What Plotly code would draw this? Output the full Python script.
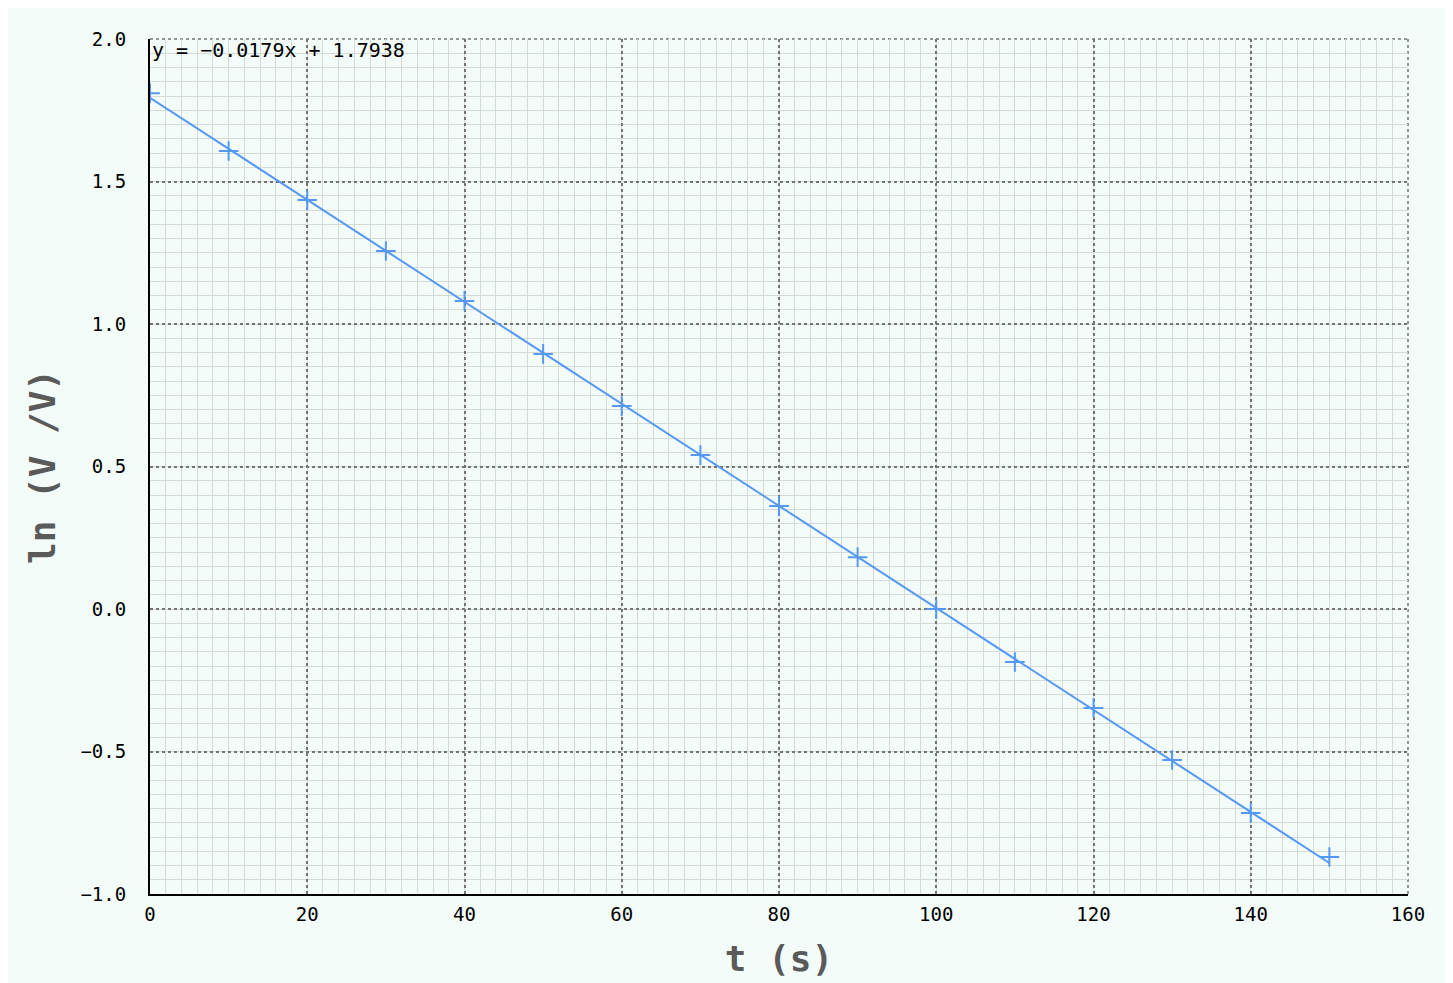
import plotly.graph_objects as go

# Data
t_s = [0, 10, 20, 30, 40, 50, 60, 70, 80, 90, 100, 110, 120, 130, 140, 150]
ln_v = [1.81, 1.607, 1.435, 1.256, 1.081, 0.895, 0.712, 0.540, 0.361, 0.182,
        0.0, -0.186, -0.347, -0.530, -0.716, -0.870]

# Fit shown on the chart
slope = -0.0179
intercept = 1.7938
fit_x = [t_s[0], t_s[-1]]
fit_y = [slope * v + intercept for v in fit_x]

x_ticks = [0, 20, 40, 60, 80, 100, 120, 140, 160]
y_ticks = [-1.0, -0.5, 0.0, 0.5, 1.0, 1.5, 2.0]
y_tick_text = ["\u22121.0", "\u22120.5", "0.0", "0.5", "1.0", "1.5", "2.0"]

BLUE = "#5599f5"
MINT = "#f3fcf8"
FONT = "DejaVu Sans Mono"
MAJOR = "#747474"
MINOR = "#d6dbd8"

fig = go.Figure()
fig.add_trace(go.Scatter(
    x=fit_x, y=fit_y, mode="lines",
    line=dict(color=BLUE, width=2), hoverinfo="skip", showlegend=False))
fig.add_trace(go.Scatter(
    x=t_s, y=ln_v, mode="markers",
    marker=dict(symbol="cross-thin", size=14, color=BLUE,
                line=dict(color=BLUE, width=2)),
    showlegend=False))

fig.add_annotation(
    x=0, y=1, xref="paper", yref="paper", xanchor="left", yanchor="top",
    xshift=0, yshift=3, showarrow=False,
    text="y = \u22120.0179x + 1.7938",
    font=dict(family=FONT, size=20, color="black"))

fig.update_xaxes(
    range=[0, 160], tickvals=x_ticks, ticktext=[str(v) for v in x_ticks],
    showgrid=True, gridcolor=MAJOR, griddash="dot", gridwidth=1.5,
    minor=dict(dtick=2, tick0=0, showgrid=True, gridcolor=MINOR, gridwidth=1,
               griddash="solid"),
    zeroline=False, showline=True, linecolor="black", linewidth=2,
    ticks="", ticklabelstandoff=2,
    tickfont=dict(family=FONT, size=19, color="black"),
    title=dict(text="t (s)", standoff=22,
               font=dict(family=FONT, size=36, color="#5a5a5a", weight="bold")))
fig.update_yaxes(
    range=[-1, 2], tickvals=y_ticks, ticktext=y_tick_text,
    showgrid=True, gridcolor=MAJOR, griddash="dot", gridwidth=1.5,
    minor=dict(dtick=0.05, tick0=0, showgrid=True, gridcolor=MINOR, gridwidth=1,
               griddash="solid"),
    zeroline=False, showline=True, linecolor="black", linewidth=2,
    ticks="", ticklabelstandoff=18,
    tickfont=dict(family=FONT, size=19, color="black"),
    title=dict(text="ln (V /V)", standoff=14,
               font=dict(family=FONT, size=36, color="#5a5a5a", weight="bold")))

# frame lines on top/right (dotted, like major grid)
fig.add_shape(type="line", xref="paper", yref="paper", x0=0, x1=1, y0=1, y1=1,
              line=dict(color=MAJOR, width=1.5, dash="dot"), layer="between")
fig.add_shape(type="line", xref="paper", yref="paper", x0=1, x1=1, y0=0, y1=1,
              line=dict(color=MAJOR, width=1.5, dash="dot"), layer="between")

fig.update_layout(
    width=1453, height=983,
    margin=dict(l=142, r=53, t=31, b=97),
    paper_bgcolor=MINT, plot_bgcolor=MINT,
    font=dict(family=FONT),
)

fig.write_html("out.html")
